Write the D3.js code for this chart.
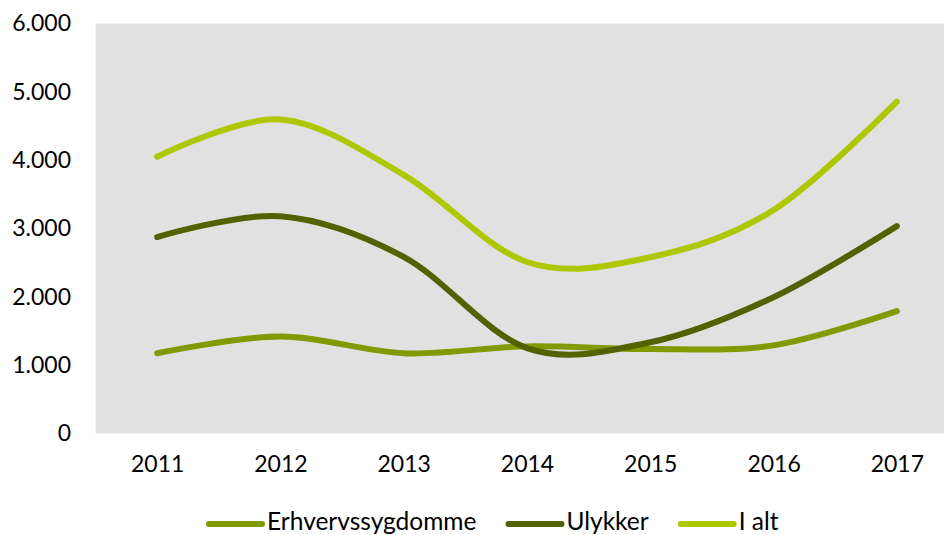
<!DOCTYPE html>
<html>
<head>
<meta charset="utf-8">
<script src="https://cdn.jsdelivr.net/npm/d3@7"></script>
<style>
  body { margin: 0; background: #fff; }
  svg { display: block; font-family: Lato, "Open Sans", sans-serif; }
</style>
</head>
<body>
<div id="chart"></div>
<script>
// Données
const years = ["2011", "2012", "2013", "2014", "2015", "2016", "2017"];
const erhverv = [1175, 1420, 1175, 1275, 1235, 1290, 1790];
const ulykker = [2875, 3180, 2585, 1250, 1335, 1995, 3035];
const iAlt = [4050, 4595, 3785, 2510, 2580, 3270, 4855];
const seriesNames = ["Erhvervssygdomme", "Ulykker", "I alt"];
const seriesColors = ["#809a00", "#506300", "#adc800"];
const yTicks = [0, 1000, 2000, 3000, 4000, 5000, 6000];

const width = 944;
const height = 535;

const svg = d3
  .select("#chart")
  .append("svg")
  .attr("width", width)
  .attr("height", height);

// Zone de tracé (dépasse à droite comme l'original)
const plot = { left: 95.5, right: 958.5, top: 23.5, bottom: 433.5 };

const x = d3
  .scalePoint()
  .domain(years)
  .range([plot.left, plot.right])
  .padding(0.5);

const y = d3
  .scaleLinear()
  .domain([0, 6000])
  .range([plot.bottom, plot.top]);

// Fond gris
svg
  .append("rect")
  .attr("x", plot.left)
  .attr("y", plot.top)
  .attr("width", plot.right - plot.left)
  .attr("height", plot.bottom - plot.top)
  .attr("fill", "#e1e1e1");

// Axe Y (format danois)
const fmt = (d) => d3.format(",")(d).replace(/,/g, ".");
const yAxis = svg
  .append("g")
  .attr("transform", `translate(${71},0)`)
  .call(d3.axisLeft(y).tickValues(yTicks).tickFormat(fmt).tickSize(0).tickPadding(0));
yAxis.select(".domain").remove();
yAxis
  .selectAll("text")
  .attr("font-size", 23)
  .attr("font-family", "Lato, sans-serif")
  .attr("fill", "#000");

// Axe X
const xAxis = svg
  .append("g")
  .attr("transform", `translate(0,${plot.bottom})`)
  .call(d3.axisBottom(x).tickSize(0).tickPadding(22));
xAxis.select(".domain").remove();
xAxis
  .selectAll("text")
  .attr("font-size", 23)
  .attr("font-family", "Lato, sans-serif")
  .attr("fill", "#000");

// Courbes lissées
const line = d3
  .line()
  .x((d, i) => x(years[i]))
  .y((d) => y(d))
  .curve(d3.curveCardinal.tension(0));

const allSeries = [erhverv, ulykker, iAlt];
svg
  .append("g")
  .selectAll("path")
  .data(allSeries)
  .join("path")
  .attr("d", line)
  .attr("fill", "none")
  .attr("stroke", (d, i) => seriesColors[i])
  .attr("stroke-width", 6)
  .attr("stroke-linecap", "round")
  .attr("stroke-linejoin", "round");

// Légende
const legend = svg.append("g").attr("transform", "translate(209,524)");
let offset = 0;
seriesNames.forEach((name, i) => {
  const item = legend.append("g").attr("transform", `translate(${offset},0)`);
  item
    .append("line")
    .attr("x1", 0)
    .attr("x2", 53)
    .attr("stroke", seriesColors[i])
    .attr("stroke-width", 6)
    .attr("stroke-linecap", "round");
  const txt = item
    .append("text")
    .attr("x", 58)
    .attr("y", 6)
    .attr("font-size", 24.5)
    .attr("fill", "#000")
    .text(name);
  offset += 58 + txt.node().getComputedTextLength() + 32;
});
</script>
</body>
</html>
